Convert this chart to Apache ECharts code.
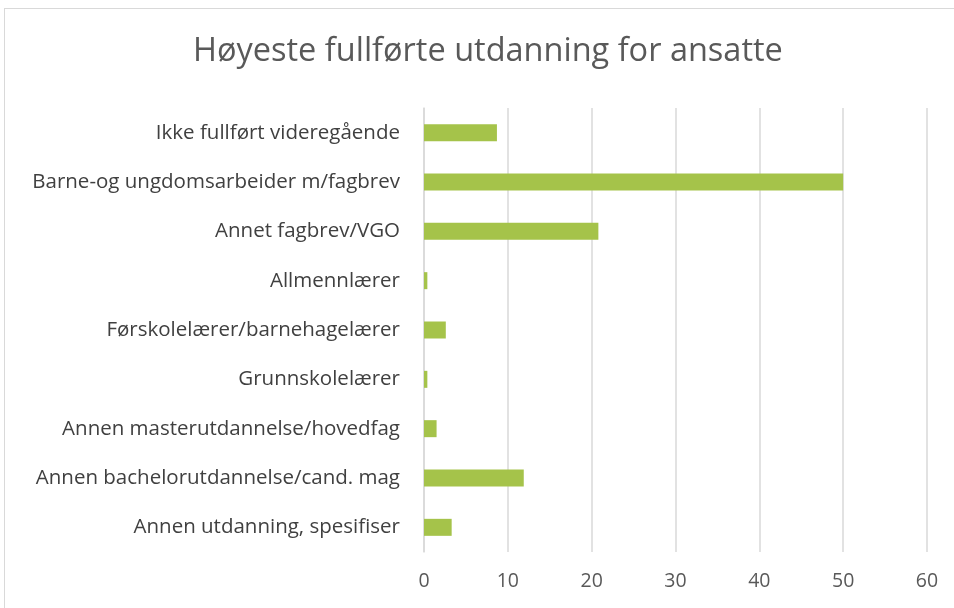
<!DOCTYPE html>
<html>
<head>
<meta charset="utf-8">
<script src="https://cdn.jsdelivr.net/npm/echarts@6/dist/echarts.min.js"></script>
<style>
  html, body { margin: 0; padding: 0; background: #fff; }
  #chart { position: absolute; left: 4px; top: 8px; width: 960px; height: 610px;
           border: 1px solid #d9d9d9; box-sizing: border-box; }
</style>
</head>
<body>
<div id="chart"></div>
<script>
const categories = [
  "Ikke fullført videregående",
  "Barne-og ungdomsarbeider m/fagbrev",
  "Annet fagbrev/VGO",
  "Allmennlærer",
  "Førskolelærer/barnehagelærer",
  "Grunnskolelærer",
  "Annen masterutdannelse/hovedfag",
  "Annen bachelorutdannelse/cand. mag",
  "Annen utdanning, spesifiser"
];
const values = [8.7, 50.0, 20.8, 0.4, 2.6, 0.4, 1.5, 11.9, 3.3];

const font = "Open Sans";
const chart = echarts.init(document.getElementById("chart"));
chart.setOption({
  animation: false,
  backgroundColor: "#fff",
  title: {
    text: "Høyeste fullførte utdanning for ansatte",
    left: 183,
    top: 21,
    textStyle: { fontFamily: font, fontSize: 32.5, fontWeight: "normal", color: "#595959" }
  },
  grid: { left: 419, right: 36, top: 99, bottom: 65 },
  xAxis: {
    type: "value",
    min: 0,
    max: 60,
    interval: 10,
    axisLine: { show: false },
    axisTick: { show: false },
    splitLine: { lineStyle: { color: "#d9d9d9", width: 1.5 } },
    axisLabel: { fontFamily: font, fontSize: 19.5, color: "#595959", margin: 19 }
  },
  yAxis: {
    type: "category",
    inverse: true,
    data: categories,
    axisLine: { show: true, lineStyle: { color: "#d9d9d9", width: 1.5 } },
    axisTick: { show: false },
    axisLabel: { fontFamily: font, fontSize: 20.5, color: "#404040", margin: 24 }
  },
  series: [{
    type: "bar",
    data: values,
    barWidth: 17,
    itemStyle: { color: "#a5c34a" }
  }]
});
</script>
</body>
</html>
